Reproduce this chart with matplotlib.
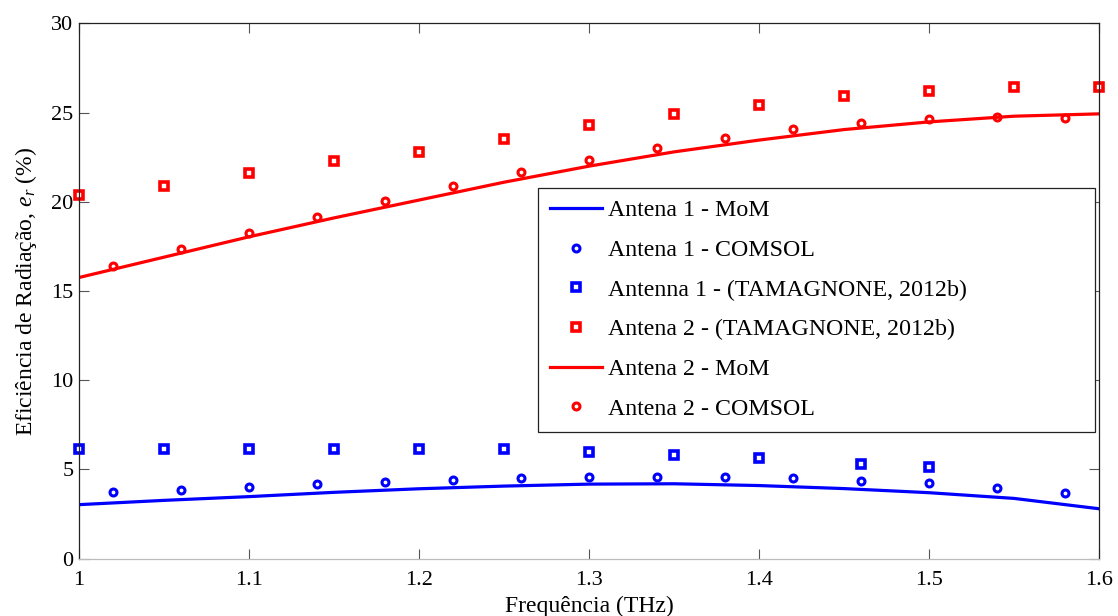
import matplotlib.pyplot as plt

plt.rcParams["font.family"] = ["Liberation Serif", "DejaVu Serif"]
plt.rcParams["mathtext.fontset"] = "custom"
plt.rcParams["mathtext.rm"] = "Liberation Serif"
plt.rcParams["mathtext.it"] = "Liberation Serif:italic"

# Antena 1
f_mom = [1.0, 1.05, 1.1, 1.15, 1.2, 1.25, 1.3, 1.35, 1.4, 1.45, 1.5, 1.55, 1.6]
a1_mom = [3.03, 3.27, 3.48, 3.72, 3.92, 4.07, 4.18, 4.2, 4.1, 3.93, 3.7, 3.38, 2.8]
f_comsol = [1.02, 1.06, 1.10, 1.14, 1.18, 1.22, 1.26, 1.30, 1.34, 1.38, 1.42, 1.46, 1.50, 1.54, 1.58]
a1_comsol = [3.74, 3.87, 4.04, 4.17, 4.3, 4.41, 4.5, 4.58, 4.59, 4.58, 4.5, 4.37, 4.22, 3.96, 3.66]
f_tam1 = [1.0, 1.05, 1.1, 1.15, 1.2, 1.25, 1.3, 1.35, 1.4, 1.46, 1.5]
a1_tam = [6.15, 6.15, 6.15, 6.15, 6.15, 6.15, 6.0, 5.81, 5.66, 5.31, 5.12]

# Antena 2
a2_mom = [15.76, 16.9, 18.04, 19.1, 20.1, 21.1, 22.0, 22.8, 23.46, 24.05, 24.48, 24.8, 24.93]
a2_comsol = [16.42, 17.33, 18.28, 19.16, 20.06, 20.88, 21.65, 22.37, 23.0, 23.59, 24.07, 24.43, 24.67, 24.76, 24.7]
f_tam2 = [1.0, 1.05, 1.1, 1.15, 1.2, 1.25, 1.3, 1.35, 1.4, 1.45, 1.5, 1.55, 1.6]
a2_tam = [20.41, 20.9, 21.6, 22.28, 22.8, 23.51, 24.3, 24.9, 25.42, 25.92, 26.22, 26.41, 26.41]

fig = plt.figure(figsize=(11.18, 6.16), dpi=100)
ax = fig.add_axes([0.0707, 0.093, 0.9123, 0.869])

mk = dict(linestyle="none", markerfacecolor="none", clip_on=False)
h2 = ax.plot(f_comsol, a1_comsol, marker="o", markersize=5, markeredgewidth=2.2, color="#0000ff", **mk)[0]
h3 = ax.plot(f_tam1, a1_tam, marker="s", markersize=6, markeredgewidth=2.6, color="#0000ff", **mk)[0]
h4 = ax.plot(f_tam2, a2_tam, marker="s", markersize=6, markeredgewidth=2.6, color="#ff0000", **mk)[0]
h6 = ax.plot(f_comsol, a2_comsol, marker="o", markersize=5, markeredgewidth=2.2, color="#ff0000", **mk)[0]
h1 = ax.plot(f_mom, a1_mom, color="#0000ff", linewidth=2.3)[0]
h5 = ax.plot(f_mom, a2_mom, color="#ff0000", linewidth=2.3)[0]

ax.set_xlim(1, 1.6)
ax.set_ylim(0, 30)
ax.set_xticks([1, 1.1, 1.2, 1.3, 1.4, 1.5, 1.6])
ax.set_xticklabels(["1", "1.1", "1.2", "1.3", "1.4", "1.5", "1.6"])
ax.set_yticks([0, 5, 10, 15, 20, 25, 30])
ax.tick_params(direction="in", length=7, width=0.8, color="#555555",
               top=True, right=True, labelsize=16, pad=4)
ax.tick_params(axis="x", pad=9)
for s in ax.spines.values():
    s.set_linewidth(0.9)
    s.set_color("#222222")
ax.spines["bottom"].set_color("#bbbbbb")

ax.set_xlabel("Frequência (THz)", fontsize=17, labelpad=4)
ax.set_ylabel("Eficiência de Radiação, $e_r$ $\\mathit{(\\%)}$", fontsize=17, labelpad=8.5)

leg = ax.legend([h1, h2, h3, h4, h5, h6],
                ["Antena 1 - MoM", "Antena 1 - COMSOL", "Antenna 1 - (TAMAGNONE, 2012b)",
                 "Antena 2 - (TAMAGNONE, 2012b)", "Antena 2 - MoM", "Antena 2 - COMSOL"],
                loc="upper left", bbox_to_anchor=(0.4497, 0.293, 0.5467, 0.4),
                mode="expand", borderaxespad=0,
                fontsize=17.2, numpoints=1, handlelength=2.2, handletextpad=0.25,
                labelspacing=0.75, fancybox=False, edgecolor="#222222", framealpha=1,
                borderpad=0.5)
leg.get_frame().set_linewidth(0.9)

fig.savefig("out.png", dpi=100)
